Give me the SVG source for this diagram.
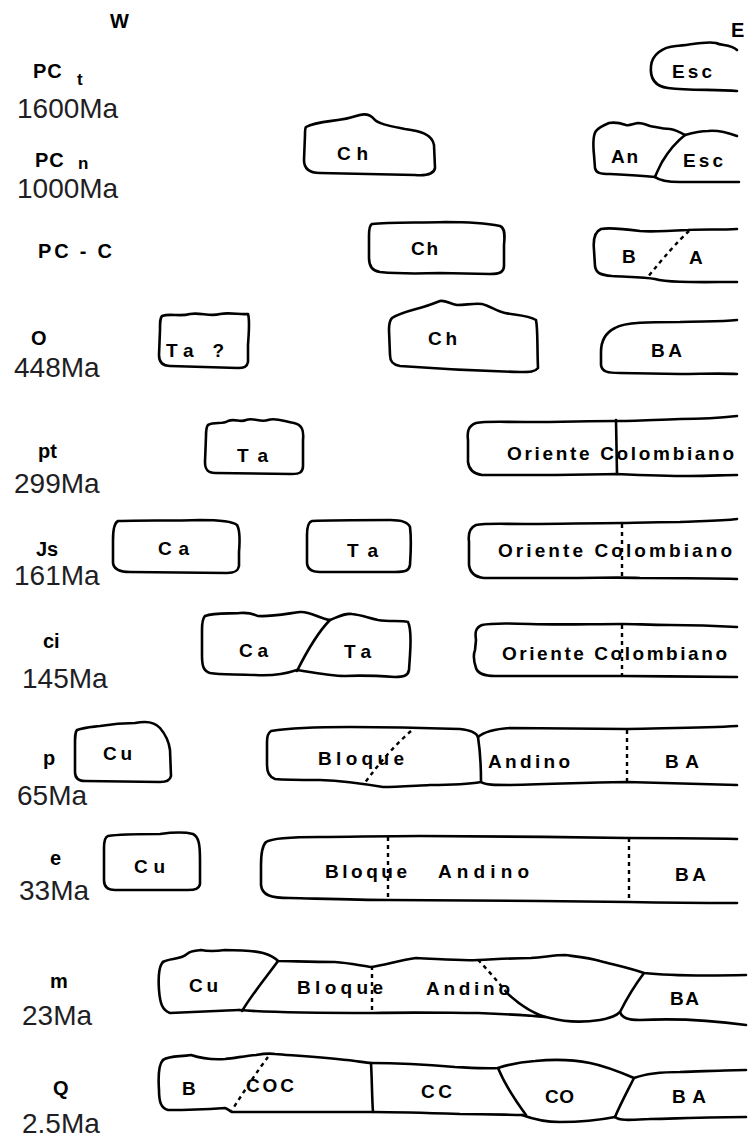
<svg xmlns="http://www.w3.org/2000/svg" width="750" height="1138" viewBox="0 0 750 1138">
<style>
.s{fill:none;stroke:#000;stroke-width:2.6;stroke-linejoin:round;stroke-linecap:round}
.d{fill:none;stroke:#000;stroke-width:2.4;stroke-dasharray:4 4}
.t{font-family:"Liberation Sans",Arial,sans-serif;font-weight:bold;font-size:19px;fill:#000}
.p{font-family:"Liberation Sans",Arial,sans-serif;font-weight:bold;font-size:20px;fill:#000}
.sub{font-family:"Liberation Sans",Arial,sans-serif;font-weight:bold;font-size:17px;fill:#000}
.a{font-family:"Liberation Sans",Arial,sans-serif;font-size:28px;fill:#1e1e24}
</style>
<rect width="750" height="1138" fill="#fff"/>

<g id="axis-labels">
<text class="p" x="110" y="28">W</text>
<text class="p" x="731" y="37" font-size="22">E</text>
</g>

<g id="period-labels">
<text class="p" x="33" y="78" font-size="22" letter-spacing="1">PC</text><text class="sub" x="77" y="85">t</text>
<text class="a" x="17" y="118">1600Ma</text>
<text class="p" x="35" y="167" font-size="22" letter-spacing="1">PC</text><text class="sub" x="78" y="169">n</text>
<text class="a" x="17" y="198">1000Ma</text>
<text class="p" x="38" y="258" font-size="22" textLength="74" lengthAdjust="spacing">PC - C</text>
<text class="p" x="31" y="345" font-size="19">O</text>
<text class="a" x="14" y="377">448Ma</text>
<text class="p" x="38" y="458" font-size="20">pt</text>
<text class="a" x="14" y="493">299Ma</text>
<text class="p" x="36" y="556" font-size="20">Js</text>
<text class="a" x="14" y="585">161Ma</text>
<text class="p" x="43" y="648" font-size="20">ci</text>
<text class="a" x="22" y="688">145Ma</text>
<text class="p" x="43" y="765" font-size="20">p</text>
<text class="a" x="17" y="805">65Ma</text>
<text class="p" x="50" y="865" font-size="20">e</text>
<text class="a" x="19" y="900">33Ma</text>
<text class="p" x="50" y="988" font-size="20">m</text>
<text class="a" x="22" y="1025">23Ma</text>
<text class="p" x="53" y="1095" font-size="21">Q</text>
<text class="a" x="22" y="1133">2.5Ma</text>
</g>

<g id="row-pct-esc">
<path class="s" d="M737,50 C730,44 722,46 716,43 C705,41 690,45 676,46 C662,47 652,55 651,66 C650,76 653,86 668,88 C690,91 715,89 737,91"/>
<text class="t" x="672" y="78" textLength="40" lengthAdjust="spacing">Esc</text>
</g>

<g id="row-pcn-ch">
<path class="s" d="M306,127 C318,120 340,122 356,116 C364,113 370,114 374,119 C378,124 390,126 405,129 C420,131 432,134 434,145 L435,168 C434,174 428,176 415,175 L320,173 C308,173 304,168 304,160 L305,135 C305,130 305,128 306,127 Z"/>
<text class="t" x="337" y="160" textLength="31" lengthAdjust="spacing">Ch</text>
</g>

<g id="row-pcn-an-esc">
<path class="s" d="M685,135 C680,132 676,130 670,129 C662,129 656,127 650,126 C645,124 642,123 638,123 C632,124 630,126 626,125 C620,123 614,122 609,123 C602,126 598,128 596,131 C593,135 593,145 594,155 L595,168 C596,173 600,174 610,174 C630,175 645,176 655,177"/>
<path class="s" d="M685,135 C676,142 668,152 662,162 C658,170 656,174 655,177"/>
<path class="s" d="M685,135 C692,133 700,131 708,131 C718,130 726,132 737,136"/>
<path class="s" d="M655,177 C660,181 668,182 680,182 C700,182 720,182 739,182"/>
<text class="t" x="611" y="163" textLength="27" lengthAdjust="spacing">An</text>
<text class="t" x="683" y="167" textLength="40" lengthAdjust="spacing">Esc</text>
</g>

<g id="row-pcc-ch">
<path class="s" d="M372,224 C390,222 420,223 445,222 C470,222 490,224 500,226 C505,228 505,235 504,245 L504,266 C504,272 500,274 490,274 L440,273 C410,274 390,273 380,272 C372,271 369,266 369,258 L369,236 C369,228 370,225 372,224 Z"/>
<text class="t" x="411" y="255" textLength="27" lengthAdjust="spacing">Ch</text>
</g>

<g id="row-pcc-ba">
<path class="s" d="M737,229 C720,230 700,229 688,230 C670,231 650,232 640,231 C625,229 610,227 601,229 C594,232 593,240 594,250 L595,266 C596,273 600,275 612,276 C630,277 645,277 655,279 C668,283 700,282 737,282"/>
<path class="d" d="M689,231 C678,241 664,257 647,278"/>
<text class="t" x="622" y="263">B</text>
<text class="t" x="689" y="264">A</text>
</g>

<g id="row-o-ta">
<path class="s" d="M162,316 C170,313 180,317 190,314 C200,312 210,317 220,314 C230,312 240,315 248,314 C250,320 249,330 248,345 L248,362 C247,367 244,368 238,368 L170,366 C162,366 159,362 159,355 L160,330 C160,322 160,318 162,316 Z"/>
<text class="t" x="166" y="357" textLength="58" lengthAdjust="spacing">Ta ?</text>
</g>

<g id="row-o-ch">
<path class="s" d="M392,318 C398,314 405,312 416,309 C424,307 430,305 440,301 C446,300 450,304 457,305 C466,305 474,303 482,304 C490,306 496,311 505,313 C515,315 528,315 536,320 C538,330 537,345 538,368 C535,372 530,372 520,372 C480,371 440,369 400,366 C393,365 390,362 390,355 L389,330 C389,324 390,320 392,318 Z"/>
<text class="t" x="428" y="345" textLength="29" lengthAdjust="spacing">Ch</text>
</g>

<g id="row-o-ba">
<path class="s" d="M737,320 C720,322 700,321 680,322 C650,322 625,322 615,328 C605,333 601,342 601,352 L601,365 C602,372 608,373 620,373 L680,374 C700,374 720,373 737,374"/>
<text class="t" x="651" y="357" textLength="31" lengthAdjust="spacing">BA</text>
</g>

<g id="row-pt-ta">
<path class="s" d="M208,425 C215,421 222,425 228,421 C235,418 240,423 246,420 C254,417 260,423 268,420 C276,417 285,422 294,423 C302,425 304,430 303,440 L303,466 C303,472 300,474 292,474 L215,473 C208,473 205,470 205,462 L206,436 C206,430 206,427 208,425 Z"/>
<text class="t" x="237" y="462" textLength="31" lengthAdjust="spacing">Ta</text>
</g>

<g id="row-pt-oriente">
<path class="s" d="M737,416 C720,418 700,419 680,419 C650,420 630,421 616,421 C590,421 560,422 530,422 C500,422 485,421 476,423 C468,426 467,432 468,440 L468,462 C469,470 474,474 482,475 L540,475 C580,475 610,474 616,474 C640,475 670,476 690,476 C710,476 725,475 737,475"/>
<path class="s" d="M616,420 L617,474"/>
<text class="t" x="507" y="460" textLength="227" lengthAdjust="spacing">Oriente Colombiano</text>
</g>

<g id="row-js-ca">
<path class="s" d="M118,521 C140,520 170,521 200,520 C220,520 232,521 237,525 C240,530 240,540 239,552 L239,566 C238,571 235,573 227,573 L130,572 C120,572 114,570 113,563 L113,540 C113,530 114,523 118,521 Z"/>
<text class="t" x="158" y="555" textLength="31" lengthAdjust="spacing">Ca</text>
</g>

<g id="row-js-ta">
<path class="s" d="M312,521 C330,520 360,520 390,520 C402,520 408,522 410,527 C411,535 411,550 410,565 C409,571 405,572 395,572 L320,572 C311,572 307,569 307,562 L307,535 C307,527 308,522 312,521 Z"/>
<text class="t" x="347" y="557" textLength="31" lengthAdjust="spacing">Ta</text>
</g>

<g id="row-js-oriente">
<path class="s" d="M737,519 C720,521 700,521 680,522 C650,522 630,523 622,523 C590,523 560,524 530,524 C500,524 485,523 476,525 C469,528 468,534 469,542 L469,565 C470,573 475,577 484,578 L560,578 C600,578 620,577 640,578 C680,578 710,578 737,579"/>
<path class="d" d="M622,524 L622,578" stroke-dasharray="3 6"/>
<text class="t" x="498" y="557" textLength="234" lengthAdjust="spacing">Oriente Colombiano</text>
</g>

<g id="row-ci-ca-ta">
<path class="s" d="M205,616 C215,612 230,614 240,613 C250,612 255,615 258,616 C270,617 285,614 300,612 C310,611 320,619 330,620 C340,616 345,613 352,614 C362,615 368,618 378,620 C390,622 400,620 408,622 C411,628 411,640 410,655 L409,670 C408,676 403,677 395,677 C380,676 365,675 345,676 C330,676 315,673 297,670 C285,674 270,676 255,675 C235,674 220,675 210,673 C203,671 202,665 202,655 L202,630 C202,622 203,618 205,616 Z"/>
<path class="s" d="M330,620 C320,630 310,645 297,671"/>
<text class="t" x="239" y="657" textLength="29" lengthAdjust="spacing">Ca</text>
<text class="t" x="344" y="658" textLength="27" lengthAdjust="spacing">Ta</text>
</g>

<g id="row-ci-oriente">
<path class="s" d="M737,627 C720,626 690,625 670,625 C650,625 635,624 622,624 C590,624 560,625 530,624 C505,623 490,623 482,625 C475,628 475,633 476,640 L475,650 C473,655 474,662 476,668 C478,674 484,676 495,676 L560,676 C600,676 615,676 622,676 C660,676 700,677 737,677"/>
<path class="d" d="M622,625 L622,676" stroke-dasharray="3 6"/>
<text class="t" x="502" y="660" textLength="225" lengthAdjust="spacing">Oriente Colombiano</text>
</g>

<g id="row-p-cu">
<path class="s" d="M77,730 C85,727 92,727 100,726 C112,724 125,723 135,723 C145,721 155,722 160,728 C166,735 169,742 170,750 L171,776 C170,781 166,782 160,782 L85,781 C78,781 75,778 75,772 L75,745 C75,736 75,732 77,730 Z"/>
<text class="t" x="103" y="760" textLength="29" lengthAdjust="spacing">Cu</text>
</g>

<g id="row-p-bloque">
<path class="s" d="M271,731 C290,728 320,727 350,727 C390,727 430,728 460,729 C470,730 476,732 478,737 C480,750 481,765 481,782 C470,784 450,785 430,785 C410,786 395,787 383,787 C365,784 345,781 320,780 C300,780 285,780 275,779 C269,777 267,772 267,765 L267,742 C267,736 268,733 271,731 Z"/>
<path class="s" d="M478,737 C485,731 495,729 510,728 C550,728 590,729 627,729 C670,728 705,728 737,726"/>
<path class="s" d="M481,782 C485,785 495,785 510,785 C560,784 600,782 627,782 C670,783 705,784 737,785"/>
<path class="d" d="M411,731 C395,745 380,762 364,784"/>
<path class="d" d="M627,730 L627,782" stroke-dasharray="3 6"/>
<text class="t" x="318" y="765" textLength="86" lengthAdjust="spacing">Bloque</text>
<text class="t" x="488" y="768" textLength="82" lengthAdjust="spacing">Andino</text>
<text class="t" x="665" y="768" textLength="34" lengthAdjust="spacing">BA</text>
</g>

<g id="row-e-cu">
<path class="s" d="M108,836 C120,834 140,834 160,834 C175,832 185,832 193,834 C199,837 200,845 200,860 L200,884 C199,889 195,890 188,890 L115,890 C107,890 104,886 104,880 L104,848 C104,840 105,837 108,836 Z"/>
<text class="t" x="134" y="873" textLength="31" lengthAdjust="spacing">Cu</text>
</g>

<g id="row-e-bloque">
<path class="s" d="M737,839 C700,838 660,838 627,838 C560,837 480,836 420,836 C380,836 350,837 320,837 C290,837 272,838 266,842 C262,846 261,855 261,865 L261,885 C262,895 270,898 290,898 C330,899 360,900 388,900 C450,900 550,901 629,902 C680,903 710,903 737,903"/>
<path class="d" d="M388,837 L388,900" stroke-dasharray="3 6"/>
<path class="d" d="M629,838 L629,902" stroke-dasharray="3 6"/>
<text class="t" x="325" y="878" textLength="82" lengthAdjust="spacing">Bloque</text>
<text class="t" x="438" y="878" textLength="91" lengthAdjust="spacing">Andino</text>
<text class="t" x="675" y="881" textLength="31" lengthAdjust="spacing">BA</text>
</g>

<g id="row-m">
<path class="s" d="M163,962 C170,958 180,960 187,954 C192,950 197,951 201,950 C210,952 218,951 225,950 C240,950 255,951 263,953 C270,955 275,958 278,961 C290,961 310,962 335,962 C350,963 362,966 371,967 C385,965 400,960 416,958 C440,959 460,961 478,960 C500,959 515,958 531,958 C545,957 555,955 565,955 C580,957 590,958 600,961 C615,965 630,968 644,973 C670,976 700,976 746,975"/>
<path class="s" d="M163,962 C159,966 158,975 159,990 C160,1003 162,1010 170,1013 C190,1012 215,1011 239,1010"/>
<path class="s" d="M278,961 C268,975 255,990 242,1011"/>
<path class="s" d="M239,1010 C270,1013 320,1013 373,1013 C420,1012 450,1013 478,1013 C505,1014 525,1015 545,1017"/>
<path class="d" d="M372,966 L372,1013" stroke-dasharray="3 6"/>
<path class="d" d="M478,960 C488,970 498,982 507,993" stroke-dasharray="3 4"/>
<path class="s" d="M507,993 C520,1005 535,1015 550,1018 C565,1022 580,1023 600,1020 C612,1018 617,1015 620,1012"/>
<path class="s" d="M644,973 C635,985 627,998 620,1012 C622,1018 628,1020 640,1020 C680,1018 710,1020 746,1025"/>
<text class="t" x="189" y="992" textLength="29" lengthAdjust="spacing">Cu</text>
<text class="t" x="297" y="994" textLength="86" lengthAdjust="spacing">Bloque</text>
<text class="t" x="426" y="995" textLength="84" lengthAdjust="spacing">Andino</text>
<text class="t" x="670" y="1005" textLength="29" lengthAdjust="spacing">BA</text>
</g>

<g id="row-q">
<path class="s" d="M163,1060 C170,1055 180,1057 191,1055 C200,1058 210,1060 225,1059 C235,1058 245,1056 256,1055 C262,1054 268,1053 275,1054 C300,1056 330,1058 355,1061 C362,1062 368,1063 371,1063 C390,1063 420,1064 455,1067 C475,1068 490,1069 498,1068 C510,1064 520,1062 535,1061 C555,1059 575,1060 590,1063 C605,1066 620,1072 634,1078 C645,1074 660,1072 680,1072 C710,1071 730,1070 746,1070"/>
<path class="s" d="M163,1060 C159,1064 158,1075 159,1090 C159,1102 161,1108 168,1110 C190,1110 210,1109 225,1108 C228,1109 230,1111 232,1112 C280,1112 330,1112 373,1112 C400,1112 431,1113 460,1114 C490,1114 510,1115 522,1115"/>
<path class="s" d="M371,1063 C372,1080 372,1100 373,1112"/>
<path class="d" d="M268,1057 C258,1070 245,1090 232,1110"/>
<path class="s" d="M498,1068 C505,1085 515,1100 526,1115"/>
<path class="s" d="M522,1115 C530,1118 545,1122 560,1122 C580,1122 600,1120 615,1117"/>
<path class="s" d="M634,1078 C628,1090 620,1105 615,1117"/>
<path class="s" d="M615,1117 C620,1121 630,1120 650,1119 C690,1118 720,1117 746,1117"/>
<text class="t" x="182" y="1095">B</text>
<text class="t" x="246" y="1092" textLength="48" lengthAdjust="spacing">COC</text>
<text class="t" x="421" y="1098" textLength="31" lengthAdjust="spacing">CC</text>
<text class="t" x="545" y="1103" textLength="29" lengthAdjust="spacing">CO</text>
<text class="t" x="672" y="1103" textLength="34" lengthAdjust="spacing">BA</text>
</g>
</svg>
